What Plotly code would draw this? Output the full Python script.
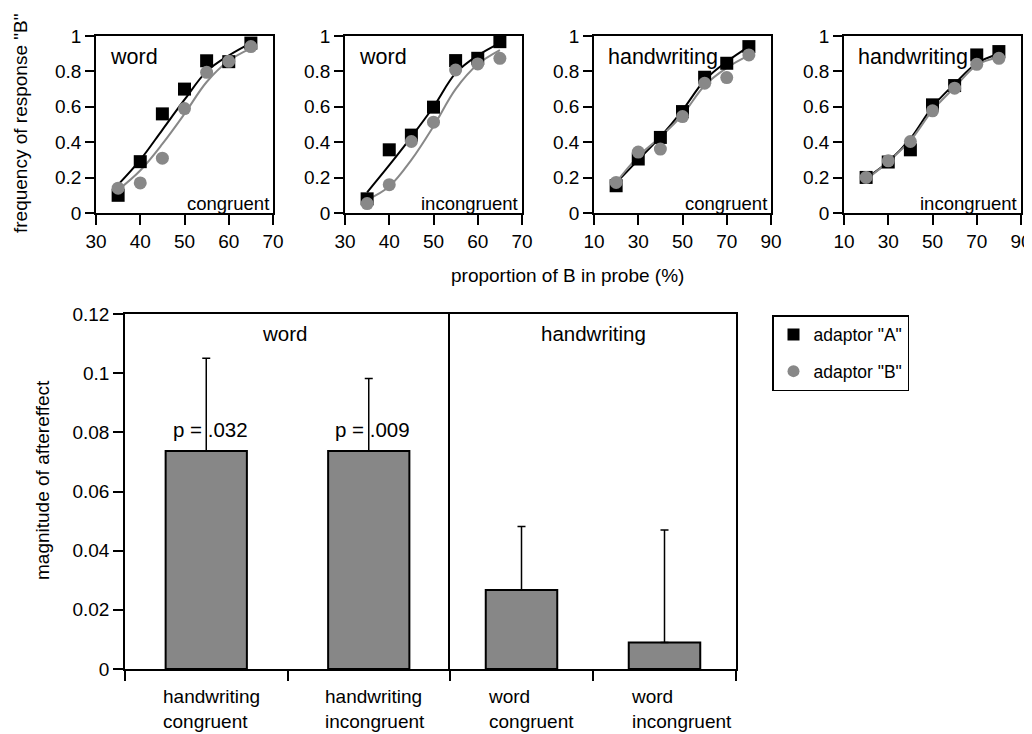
import plotly.graph_objects as go

# ---------------- data ----------------
# top panels: proportion of B in probe (%)
x_word = [35, 40, 45, 50, 55, 60, 65]
x_hand = [20, 30, 40, 50, 60, 70, 80]

# panel 1: word / congruent
p1_A = [0.10, 0.29, 0.56, 0.70, 0.86, 0.855, 0.96]
p1_B = [0.14, 0.17, 0.31, 0.59, 0.795, 0.857, 0.94]
p1_fitA = [0.16, 0.30, 0.47, 0.64, 0.80, 0.89, 0.96]
p1_fitB = [0.13, 0.24, 0.39, 0.56, 0.74, 0.86, 0.93]

# panel 2: word / incongruent
p2_A = [0.08, 0.357, 0.44, 0.598, 0.861, 0.874, 0.968]
p2_B = [0.053, 0.16, 0.404, 0.513, 0.808, 0.842, 0.874]
p2_fitA = [0.117, 0.27, 0.43, 0.60, 0.79, 0.89, 0.96]
p2_fitB = [0.075, 0.15, 0.30, 0.49, 0.70, 0.84, 0.92]

# panel 3: handwriting / congruent
p3_A = [0.154, 0.305, 0.427, 0.573, 0.767, 0.846, 0.94]
p3_B = [0.173, 0.344, 0.361, 0.545, 0.733, 0.765, 0.893]
p3_fitA = [0.17, 0.30, 0.43, 0.58, 0.75, 0.855, 0.94]
p3_fitB = [0.173, 0.32, 0.43, 0.555, 0.72, 0.82, 0.89]

# panel 4: handwriting / incongruent
p4_A = [0.201, 0.288, 0.357, 0.611, 0.72, 0.893, 0.912]
p4_B = [0.201, 0.295, 0.404, 0.577, 0.705, 0.84, 0.874]
p4_fitA = [0.197, 0.29, 0.42, 0.60, 0.73, 0.846, 0.90]
p4_fitB = [0.19, 0.29, 0.41, 0.58, 0.71, 0.836, 0.88]

panel_titles = ["word", "word", "handwriting", "handwriting"]
panel_conds = ["congruent", "incongruent", "congruent", "incongruent"]

# bottom panel: magnitude of aftereffect
word_cats = ["handwriting<br>congruent", "handwriting<br>incongruent"]
word_vals = [0.0737, 0.0737]
word_err = [0.0313, 0.0245]
word_p = ["p = .032", "p = .009"]

hand_cats = ["word<br>congruent", "word<br>incongruent"]
hand_vals = [0.0267, 0.009]
hand_err = [0.0215, 0.038]

legend_names = ['adaptor "A"', 'adaptor "B"']

# ---------------- figure ----------------
FONT = "Liberation Sans, Arial, Helvetica, sans-serif"
GRAY = "#888888"
OFF = 8                      # page body margin
W, H = 1032 - OFF, 734 - OFF

fig = go.Figure()

panels = [
    (x_word, p1_A, p1_B, p1_fitA, p1_fitB),
    (x_word, p2_A, p2_B, p2_fitA, p2_fitB),
    (x_hand, p3_A, p3_B, p3_fitA, p3_fitB),
    (x_hand, p4_A, p4_B, p4_fitA, p4_fitB),
]

for i, (xs, a, b, fa, fb) in enumerate(panels):
    n = "" if i == 0 else str(i + 1)
    xa, ya = "x" + n, "y" + n
    fig.add_trace(go.Scatter(x=xs, y=fa, mode="lines", line=dict(color="black", width=2, shape="spline"),
                             xaxis=xa, yaxis=ya, showlegend=False, hoverinfo="skip"))
    fig.add_trace(go.Scatter(x=xs, y=fb, mode="lines", line=dict(color=GRAY, width=2, shape="spline"),
                             xaxis=xa, yaxis=ya, showlegend=False, hoverinfo="skip"))
    fig.add_trace(go.Scatter(x=xs, y=a, mode="markers", name=legend_names[0], legendgroup="A",
                             marker=dict(symbol="square", size=13, color="black"),
                             xaxis=xa, yaxis=ya, showlegend=(i == 0)))
    fig.add_trace(go.Scatter(x=xs, y=b, mode="markers", name=legend_names[1], legendgroup="B",
                             marker=dict(symbol="circle", size=13, color=GRAY),
                             xaxis=xa, yaxis=ya, showlegend=(i == 0)))

# bottom bars
fig.add_trace(go.Bar(x=word_cats, y=word_vals, width=0.5, xaxis="x5", yaxis="y5",
                     marker=dict(color="#878787", line=dict(color="black", width=2)),
                     error_y=dict(type="data", array=word_err, arrayminus=[0] * len(word_err),
                                  symmetric=False, color="black", thickness=1.5, width=4),
                     showlegend=False))
fig.add_trace(go.Bar(x=hand_cats, y=hand_vals, width=0.5, xaxis="x6", yaxis="y6",
                     marker=dict(color="#878787", line=dict(color="black", width=2)),
                     error_y=dict(type="data", array=hand_err, arrayminus=[0] * len(hand_err),
                                  symmetric=False, color="black", thickness=1.5, width=4),
                     showlegend=False))

# ---------------- layout ----------------
def px_x(p):
    return (p - OFF) / W

def px_y(p):
    return 1 - (p - OFF) / H

top_dom_y = [px_y(213), px_y(36)]
top_dom_x = [(96, 273), (345, 522), (594, 771), (844, 1021)]
top_ranges = [[30, 70], [30, 70], [10, 90], [10, 90]]
top_dticks = [10, 10, 20, 20]

axis_common = dict(showline=True, linecolor="black", linewidth=1.5, mirror=True,
                   ticks="outside", tickcolor="black", tickwidth=1.5,
                   showgrid=False, zeroline=False, automargin=False,
                   tickfont=dict(family=FONT, size=19, color="black"))

layout = dict(width=W, height=H, margin=dict(l=0, r=0, t=0, b=0, autoexpand=False),
              template="none",
              paper_bgcolor="white", plot_bgcolor="white",
              font=dict(family=FONT, size=18, color="black"),
              bargap=0.5)

for i in range(4):
    n = "" if i == 0 else str(i + 1)
    layout["xaxis" + n] = dict(axis_common, domain=[px_x(top_dom_x[i][0]), px_x(top_dom_x[i][1])],
                               range=top_ranges[i], dtick=top_dticks[i], tick0=top_ranges[i][0],
                               ticklen=10, anchor="y" + n)
    layout["yaxis" + n] = dict(axis_common, domain=top_dom_y, range=[0, 1], dtick=0.2,
                               ticklen=9, anchor="x" + n)

bot_dom_y = [px_y(669), px_y(314)]
layout["xaxis5"] = dict(axis_common, domain=[px_x(125), px_x(450)], range=[-0.5, 1.5],
                        tickson="boundaries", ticklen=10, showticklabels=False, anchor="y5")
layout["yaxis5"] = dict(axis_common, domain=bot_dom_y, range=[0, 0.12], dtick=0.02,
                        ticklen=10, anchor="x5", mirror=False)
layout["xaxis6"] = dict(axis_common, domain=[px_x(450), px_x(736)], range=[-0.5, 1.5],
                        tickson="boundaries", ticklen=10, showticklabels=False, anchor="y6")
layout["yaxis6"] = dict(axis_common, domain=bot_dom_y, range=[0, 0.12], ticks="",
                        showticklabels=False, anchor="x6")

layout["legend"] = dict(x=px_x(772), y=px_y(315), xanchor="left", yanchor="top",
                        bordercolor="black", borderwidth=1.5, bgcolor="white",
                        font=dict(family=FONT, size=17.5, color="black"),
                        itemsizing="constant", tracegroupgap=11)

annotations = []
for i in range(4):
    n = "" if i == 0 else str(i + 1)
    annotations.append(dict(text=panel_titles[i], xref="x" + n + " domain", yref="y" + n + " domain",
                            x=0, y=1, xanchor="left", yanchor="middle", xshift=12, yshift=-21,
                            showarrow=False, font=dict(family=FONT, size=21.5, color="black")))
    annotations.append(dict(text=panel_conds[i], xref="x" + n + " domain", yref="y" + n + " domain",
                            x=1, y=0, xanchor="right", yanchor="middle", xshift=-2, yshift=10,
                            showarrow=False, font=dict(family=FONT, size=18.5, color="black")))

annotations.append(dict(text='frequency of response "B"', xref="paper", yref="paper",
                        x=px_x(20), y=px_y(124), xanchor="center", yanchor="middle",
                        textangle=-90, showarrow=False,
                        font=dict(family=FONT, size=19, color="black")))
annotations.append(dict(text="proportion of B in probe (%)", xref="paper", yref="paper",
                        x=px_x(567), y=px_y(276), xanchor="center", yanchor="middle",
                        showarrow=False, font=dict(family=FONT, size=19, color="black")))
annotations.append(dict(text="magnitude of aftereffect", xref="paper", yref="paper",
                        x=px_x(42), y=px_y(480), xanchor="center", yanchor="middle",
                        textangle=-90, showarrow=False,
                        font=dict(family=FONT, size=19, color="black")))
annotations.append(dict(text="word", xref="x5 domain", yref="paper", x=0.49, y=px_y(333),
                        xanchor="center", yanchor="middle",
                        showarrow=False, font=dict(family=FONT, size=20.5, color="black")))
annotations.append(dict(text="handwriting", xref="x6 domain", yref="paper", x=0.5, y=px_y(333),
                        xanchor="center", yanchor="middle",
                        showarrow=False, font=dict(family=FONT, size=20.5, color="black")))

for j, (c, v, e) in enumerate(zip(word_cats, word_vals, word_p)):
    annotations.append(dict(text=e, xref="x5", yref="y5", x=j, y=v, xanchor="center", yanchor="bottom",
                            xshift=4, yshift=8, showarrow=False,
                            font=dict(family=FONT, size=20.5, color="black")))

for j, c in enumerate(word_cats):
    annotations.append(dict(text=c, xref="x5", yref="paper", x=j - 0.25, y=px_y(684),
                            xanchor="left", yanchor="top", align="left", xshift=-5,
                            showarrow=False, font=dict(family=FONT, size=19, color="black")))
for j, c in enumerate(hand_cats):
    annotations.append(dict(text=c, xref="x6", yref="paper", x=j - 0.25, y=px_y(684),
                            xanchor="left", yanchor="top", align="left", xshift=0,
                            showarrow=False, font=dict(family=FONT, size=19, color="black")))

layout["annotations"] = annotations
fig.update_layout(**layout)

fig.write_html("out.html")
